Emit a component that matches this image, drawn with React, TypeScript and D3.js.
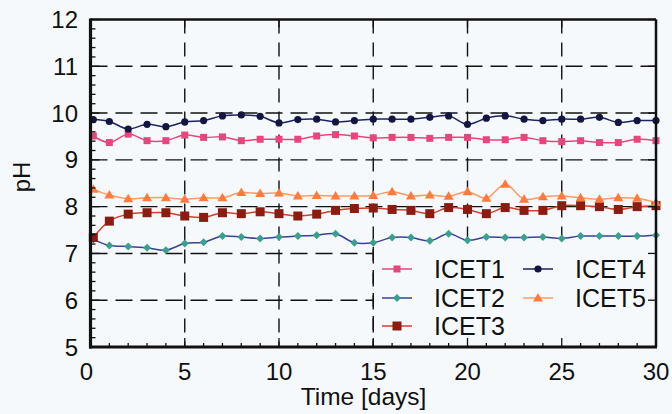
import React from "react";
import * as d3 from "d3";

const days = [0.15, 1, 2, 3, 4, 5, 6, 7, 8, 9, 10, 11, 12, 13, 14, 15, 16, 17, 18, 19, 20, 21, 22, 23, 24, 25, 26, 27, 28, 29, 30];

const icet1 = [9.51, 9.37, 9.55, 9.41, 9.41, 9.53, 9.48, 9.49, 9.41, 9.44, 9.44, 9.44, 9.51, 9.54, 9.51, 9.47, 9.48, 9.48, 9.46, 9.48, 9.48, 9.43, 9.43, 9.48, 9.41, 9.39, 9.41, 9.37, 9.37, 9.44, 9.41];
const icet2 = [7.3, 7.17, 7.15, 7.12, 7.07, 7.21, 7.24, 7.37, 7.35, 7.32, 7.35, 7.37, 7.39, 7.42, 7.23, 7.23, 7.34, 7.34, 7.27, 7.42, 7.28, 7.35, 7.34, 7.34, 7.35, 7.32, 7.37, 7.37, 7.37, 7.37, 7.39];
const icet3 = [7.34, 7.69, 7.84, 7.87, 7.87, 7.8, 7.77, 7.87, 7.85, 7.89, 7.85, 7.8, 7.84, 7.92, 7.96, 7.97, 7.94, 7.92, 7.85, 7.98, 7.94, 7.85, 7.98, 7.92, 7.92, 8.02, 8.02, 8.0, 7.94, 8.0, 8.02];
const icet4 = [9.86, 9.82, 9.66, 9.76, 9.71, 9.81, 9.84, 9.94, 9.96, 9.93, 9.79, 9.86, 9.87, 9.81, 9.84, 9.87, 9.87, 9.87, 9.91, 9.94, 9.76, 9.89, 9.94, 9.87, 9.84, 9.87, 9.87, 9.91, 9.8, 9.84, 9.84];
const icet5 = [8.37, 8.25, 8.17, 8.19, 8.19, 8.16, 8.19, 8.19, 8.3, 8.28, 8.29, 8.23, 8.24, 8.23, 8.23, 8.24, 8.32, 8.23, 8.25, 8.22, 8.32, 8.18, 8.48, 8.16, 8.21, 8.23, 8.19, 8.16, 8.19, 8.18, 8.09];

const xTicks = [0, 5, 10, 15, 20, 25, 30];
const yTicks = [5, 6, 7, 8, 9, 10, 11, 12];
const seriesNames = ["ICET1", "ICET2", "ICET3", "ICET4", "ICET5"];

type Marker = "square" | "diamond" | "bigsquare" | "circle" | "triangle";

const series: { name: string; values: number[]; line: string; fill: string; marker: Marker }[] = [
  { name: seriesNames[0], values: icet1, line: "#e8457c", fill: "#e8457c", marker: "square" },
  { name: seriesNames[1], values: icet2, line: "#3b3f9a", fill: "#3aa08e", marker: "diamond" },
  { name: seriesNames[2], values: icet3, line: "#d2402e", fill: "#8a1c12", marker: "bigsquare" },
  { name: seriesNames[3], values: icet4, line: "#1c2262", fill: "#121640", marker: "circle" },
  { name: seriesNames[4], values: icet5, line: "#ff9a66", fill: "#ff7a3c", marker: "triangle" },
];

const FONT = "'Liberation Sans', Arial, sans-serif";
const BG = "#f6f9fb";

function MarkerShape({ kind, x, y, fill }: { kind: Marker; x: number; y: number; fill: string }) {
  switch (kind) {
    case "square":
      return <rect x={x - 3.5} y={y - 3.5} width={7} height={7} fill={fill} />;
    case "bigsquare":
      return <rect x={x - 4.5} y={y - 4.5} width={9} height={9} fill={fill} />;
    case "diamond":
      return <path d={`M${x},${y - 4} L${x + 4},${y} L${x},${y + 4} L${x - 4},${y} Z`} fill={fill} />;
    case "circle":
      return <circle cx={x} cy={y} r={3.6} fill={fill} />;
    case "triangle":
      return <path d={`M${x},${y - 5} L${x + 5},${y + 3.5} L${x - 5},${y + 3.5} Z`} fill={fill} />;
  }
}

export default function App() {
  const W = 672;
  const H = 414;
  const x = d3.scaleLinear().domain([0, 30]).range([90.5, 656]);
  const y = d3.scaleLinear().domain([5, 12]).range([347, 19.5]);
  const left = x(0);
  const right = x(30);
  const top = y(12);
  const bottom = y(5);

  const line = (vals: number[]) =>
    d3
      .line<number>()
      .x((_, i) => x(days[i]))
      .y((v) => y(v))
      .curve(d3.curveCatmullRom.alpha(0.5))(vals) || "";

  const minorY = d3.range(5, 12.001, 0.2);
  const minorX = d3.range(0, 31, 1);

  const legendItems = [
    { s: series[0], lx: 382, ly: 269 },
    { s: series[1], lx: 382, ly: 298 },
    { s: series[2], lx: 382, ly: 326 },
    { s: series[3], lx: 523, ly: 269 },
    { s: series[4], lx: 523, ly: 298 },
  ];

  return (
    <svg width={W} height={H} style={{ position: "absolute", left: 0, top: 0, background: BG }} fontFamily={FONT}>
      <rect x={0} y={0} width={W} height={H} fill={BG} />
      {/* grid */}
      {yTicks.filter((t) => t > 5 && t < 12).map((t) => (
        <line key={"gy" + t} x1={left} x2={right} y1={y(t)} y2={y(t)} stroke="#111" strokeWidth={1.4} strokeDasharray="17,8" />
      ))}
      {xTicks.filter((t) => t > 0 && t < 30).map((t) => (
        <line key={"gx" + t} x1={x(t)} x2={x(t)} y1={top} y2={bottom} stroke="#111" strokeWidth={1.4} strokeDasharray="14,9" />
      ))}
      {/* legend box background covering grid */}
      <rect x={374} y={247} width={right - 375} height={bottom - 248} fill={BG} />
      <line x1={x(15)} x2={x(15)} y1={247} y2={bottom} stroke="#111" strokeWidth={1.4} strokeDasharray="14,9" />
      {/* series */}
      {series.map((s) => (
        <g key={s.name}>
          <path d={line(s.values)} fill="none" stroke={s.line} strokeWidth={1.5} />
          {s.values.map((v, i) => (
            <MarkerShape key={i} kind={s.marker} x={x(days[i])} y={y(v)} fill={s.fill} />
          ))}
        </g>
      ))}
      {/* legend */}
      {legendItems.map(({ s, lx, ly }) => (
        <g key={"lg" + s.name}>
          <line x1={lx} x2={lx + 30} y1={ly} y2={ly} stroke={s.line} strokeWidth={1.5} />
          <MarkerShape kind={s.marker} x={lx + 15} y={ly} fill={s.fill} />
          <text x={lx + 52} y={ly} dy="0.36em" fontSize={25} fill="#111">
            {s.name}
          </text>
        </g>
      ))}
      {/* ticks */}
      {minorY.map((t, i) => {
        const major = Math.abs(t - Math.round(t)) < 1e-6;
        return (
          <g key={"my" + i}>
            <line x1={left} x2={left + (major ? 9 : 5)} y1={y(t)} y2={y(t)} stroke="#111" strokeWidth={1.3} />
            {major && <line x1={right} x2={right - 8} y1={y(t)} y2={y(t)} stroke="#111" strokeWidth={1.3} />}
          </g>
        );
      })}
      {minorX.map((t) => {
        const major = t % 5 === 0;
        return (
          <g key={"mx" + t}>
            <line x1={x(t)} x2={x(t)} y1={bottom} y2={bottom - (major ? 9 : 4)} stroke="#111" strokeWidth={1.3} />
            {major && <line x1={x(t)} x2={x(t)} y1={top} y2={top + 8} stroke="#111" strokeWidth={1.3} />}
          </g>
        );
      })}
      {/* frame */}
      <line x1={left} x2={right} y1={top} y2={top} stroke="#111" strokeWidth={2.5} />
      <line x1={right} x2={right} y1={top} y2={bottom} stroke="#111" strokeWidth={2.5} />
      <line x1={left} x2={left} y1={top - 1} y2={bottom + 1.5} stroke="#111" strokeWidth={3.2} />
      <line x1={left - 1.5} x2={right + 1} y1={bottom} y2={bottom} stroke="#111" strokeWidth={3} />
      {/* tick labels */}
      {yTicks.map((t) => (
        <text key={"ly" + t} x={78} y={y(t)} dy="0.36em" textAnchor="end" fontSize={24} fill="#111">
          {t}
        </text>
      ))}
      {xTicks.map((t) => (
        <text key={"lx" + t} x={t === 0 ? x(t) - 4 : x(t)} y={371} dy="0.36em" textAnchor="middle" fontSize={24} fill="#111">
          {t}
        </text>
      ))}
      <text x={363.5} y={405} textAnchor="middle" fontSize={24.5} fill="#111">
        Time [days]
      </text>
      <text transform="translate(30,177) rotate(-90)" textAnchor="middle" fontSize={24} fill="#111">
        pH
      </text>
    </svg>
  );
}
